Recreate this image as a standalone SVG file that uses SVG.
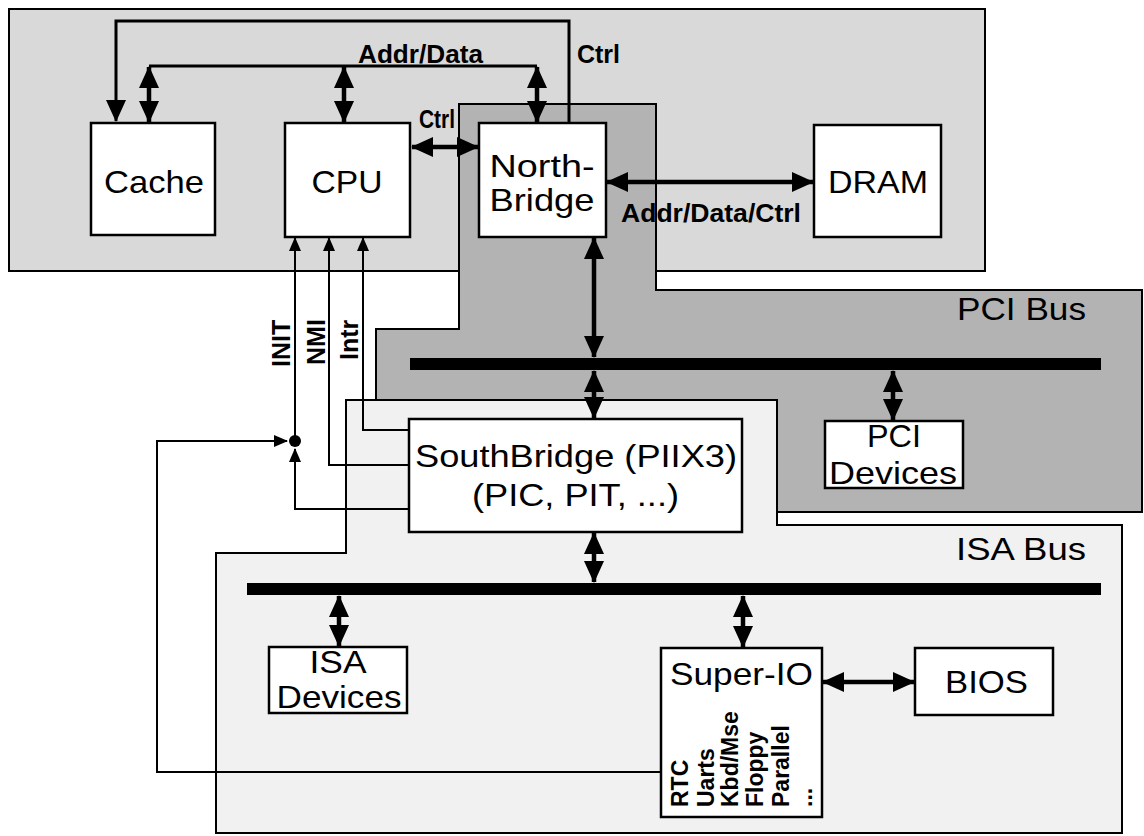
<svg xmlns="http://www.w3.org/2000/svg" width="1144" height="836" viewBox="0 0 1144 836">
<defs>
<marker id="ah" markerUnits="userSpaceOnUse" markerWidth="22" markerHeight="20" viewBox="0 0 22 20" refX="21" refY="10" orient="auto-start-reverse"><path d="M0,0 L22,10 L0,20 z" fill="#000"/></marker>
<marker id="sh" markerUnits="userSpaceOnUse" markerWidth="14" markerHeight="12" viewBox="0 0 14 12" refX="13" refY="6" orient="auto-start-reverse"><path d="M0,0 L14,6 L0,12 z" fill="#000"/></marker>
</defs>
<style>
.panel{stroke:#000;stroke-width:2}
.box{fill:#fff;stroke:#000;stroke-width:2.5}
.lbl{font-family:"Liberation Sans",Arial,sans-serif;font-size:32px;fill:#000}
.b{font-family:"Liberation Sans",Arial,sans-serif;font-weight:bold;font-size:25px;fill:#000}
.sm{font-family:"Liberation Sans",Arial,sans-serif;font-weight:bold;font-size:23px;fill:#000}
.thick{fill:none;stroke:#000;stroke-width:4.5}
.bus{fill:none;stroke:#000;stroke-width:3}
.thin{fill:none;stroke:#000;stroke-width:2}
.bar{fill:#000}
</style>
<rect width="1144" height="836" fill="#fff"/>
<g id="panels">
<rect id="cpu-panel" class="panel" x="9" y="9" width="976" height="262" fill="#d9d9d9"/>
<polygon id="pci-panel" class="panel" fill="#b3b3b3" points="459,104 656,104 656,290 1142,290 1142,512 777,512 777,400 376,400 376,329 459,329"/>
<polygon id="isa-panel" class="panel" fill="#f1f1f1" points="346,400 777,400 777,525 1122,525 1122,833 216,833 216,553 346,553"/>
<text class="lbl" x="957" y="320" textLength="129" lengthAdjust="spacingAndGlyphs">PCI Bus</text>
<text class="lbl" x="956" y="560" textLength="130" lengthAdjust="spacingAndGlyphs">ISA Bus</text>
</g>
<g id="buses">
<rect id="pci-bar" class="bar" x="410" y="358" width="691" height="12"/>
<rect id="isa-bar" class="bar" x="247" y="583" width="854" height="12"/>
</g>
<g id="cache">
<rect class="box" x="91" y="123" width="124" height="112"/>
<text class="lbl" x="154" y="193" text-anchor="middle" textLength="100" lengthAdjust="spacingAndGlyphs">Cache</text>
</g>
<g id="cpu">
<rect class="box" x="285" y="123" width="125" height="114"/>
<text class="lbl" x="347" y="193" text-anchor="middle" textLength="71" lengthAdjust="spacingAndGlyphs">CPU</text>
</g>
<g id="northbridge">
<rect class="box" x="479" y="123" width="127" height="114"/>
<text class="lbl" x="542" y="177" text-anchor="middle" textLength="105" lengthAdjust="spacingAndGlyphs">North-</text>
<text class="lbl" x="542" y="211" text-anchor="middle" textLength="105" lengthAdjust="spacingAndGlyphs">Bridge</text>
</g>
<g id="dram">
<rect class="box" x="814" y="125" width="127" height="112"/>
<text class="lbl" x="878" y="193" text-anchor="middle" textLength="100" lengthAdjust="spacingAndGlyphs">DRAM</text>
</g>
<g id="pci-devices">
<rect class="box" x="825" y="421" width="138" height="67"/>
<text class="lbl" x="894" y="447" text-anchor="middle" textLength="54" lengthAdjust="spacingAndGlyphs">PCI</text>
<text class="lbl" x="893" y="484" text-anchor="middle" textLength="128" lengthAdjust="spacingAndGlyphs">Devices</text>
</g>
<g id="southbridge">
<rect class="box" x="409" y="419" width="333" height="113"/>
<text class="lbl" x="415" y="467" textLength="322" lengthAdjust="spacingAndGlyphs">SouthBridge (PIIX3)</text>
<text class="lbl" x="472" y="506" textLength="207" lengthAdjust="spacingAndGlyphs">(PIC, PIT, ...)</text>
</g>
<g id="isa-devices">
<rect class="box" x="269" y="647" width="138" height="66"/>
<text class="lbl" x="338" y="673" text-anchor="middle" textLength="57" lengthAdjust="spacingAndGlyphs">ISA</text>
<text class="lbl" x="339" y="708" text-anchor="middle" textLength="125" lengthAdjust="spacingAndGlyphs">Devices</text>
</g>
<g id="super-io">
<rect class="box" x="661" y="648" width="161" height="169"/>
<text class="lbl" x="670" y="685" textLength="143" lengthAdjust="spacingAndGlyphs">Super-IO</text>
<text class="sm" transform="translate(688,807) rotate(-90)">RTC</text>
<text class="sm" transform="translate(714,807) rotate(-90)">Uarts</text>
<text class="sm" transform="translate(738,807) rotate(-90)">Kbd/Mse</text>
<text class="sm" transform="translate(763,807) rotate(-90)">Floppy</text>
<text class="sm" transform="translate(789,807) rotate(-90)">Parallel</text>
<text class="sm" transform="translate(812,807) rotate(-90)">...</text>
</g>
<g id="bios">
<rect class="box" x="915" y="648" width="138" height="67"/>
<text class="lbl" x="945" y="693" textLength="83" lengthAdjust="spacingAndGlyphs">BIOS</text>
</g>
<g id="connectors">
<path class="bus" d="M569,123 L569,21 L116,21 L116,121" marker-end="url(#ah)"/>
<path class="bus" d="M149,66 L537,66"/>
<path class="thick" d="M149,67 L149,122" marker-start="url(#ah)" marker-end="url(#ah)"/>
<path class="thick" d="M344,67 L344,122" marker-start="url(#ah)" marker-end="url(#ah)"/>
<path class="thick" d="M537,67 L537,122" marker-start="url(#ah)" marker-end="url(#ah)"/>
<path class="thick" d="M412,147 L478,147" marker-start="url(#ah)" marker-end="url(#ah)"/>
<path class="thick" d="M607,182 L813,182" marker-start="url(#ah)" marker-end="url(#ah)"/>
<path class="thick" d="M594,238 L594,357" marker-start="url(#ah)" marker-end="url(#ah)"/>
<path class="thick" d="M594,371 L594,418" marker-start="url(#ah)" marker-end="url(#ah)"/>
<path class="thick" d="M893,371 L893,420" marker-start="url(#ah)" marker-end="url(#ah)"/>
<path class="thick" d="M594,533 L594,582" marker-start="url(#ah)" marker-end="url(#ah)"/>
<path class="thick" d="M339,596 L339,646" marker-start="url(#ah)" marker-end="url(#ah)"/>
<path class="thick" d="M743,596 L743,647" marker-start="url(#ah)" marker-end="url(#ah)"/>
<path class="thick" d="M823,682 L914,682" marker-start="url(#ah)" marker-end="url(#ah)"/>
<path class="thin" d="M295,441 L295,238" marker-end="url(#sh)"/>
<path class="thin" d="M409,465 L329,465 L329,238" marker-end="url(#sh)"/>
<path class="thin" d="M409,430 L363,430 L363,238" marker-end="url(#sh)"/>
<path class="thin" d="M409,509 L295,509 L295,449" marker-end="url(#sh)"/>
<path class="thin" d="M661,772 L157,772 L157,441 L287,441" marker-end="url(#sh)"/>
<circle cx="295" cy="441" r="6" fill="#000"/>
<text class="b" x="358" y="63" textLength="125" lengthAdjust="spacingAndGlyphs">Addr/Data</text>
<text class="b" x="577" y="63" textLength="43" lengthAdjust="spacingAndGlyphs">Ctrl</text>
<text class="b" x="419" y="128" font-size="22" textLength="36" lengthAdjust="spacingAndGlyphs">Ctrl</text>
<text class="b" x="621" y="222" textLength="180" lengthAdjust="spacingAndGlyphs">Addr/Data/Ctrl</text>
<text class="b" transform="translate(290,367) rotate(-90)">INIT</text>
<text class="b" transform="translate(325,365) rotate(-90)">NMI</text>
<text class="b" transform="translate(358,360) rotate(-90)">Intr</text>
</g>
</svg>
